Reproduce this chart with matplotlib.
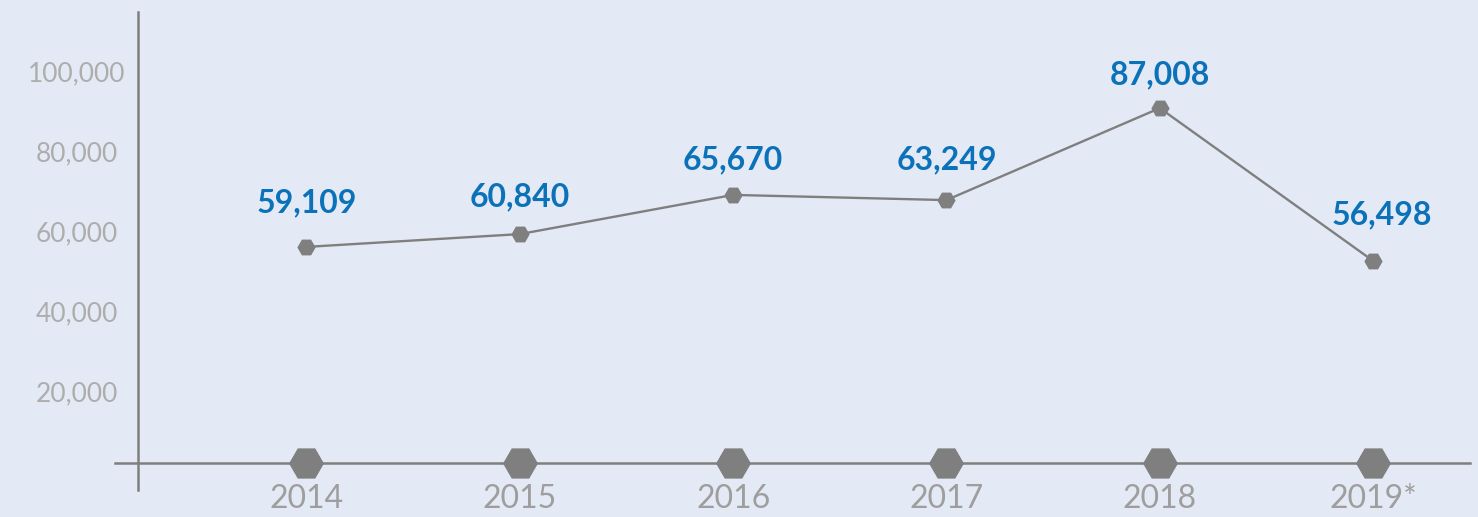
import matplotlib.pyplot as plt

# Data
years = ["2014", "2015", "2016", "2017", "2018", "2019*"]
plotted = [56200, 59400, 69200, 67900, 90900, 52700]
labels = ["59,109", "60,840", "65,670", "63,249", "87,008", "56,498"]
yticks = [20000, 40000, 60000, 80000, 100000]
ytick_labels = ["20,000", "40,000", "60,000", "80,000", "100,000"]

# Style
BG = "#E4EAF5"
GREY = "#7F7F7F"
BLUE = "#0B72BA"
W, H = 1478, 517
label_offsets = [(0, 32), (0, 27), (0, 25), (0, 29), (0, 24), (6, 33)]  # points

plt.rcParams["font.family"] = ["Lato", "DejaVu Sans"]

fig = plt.figure(figsize=(W / 100, H / 100), dpi=100, facecolor=BG)
ax = fig.add_axes([137.7 / W, (H - 490) / H, (1470 - 137.7) / W, (490 - 12) / H])
ax.set_facecolor(BG)

x = list(range(len(years)))
ax.plot(x, plotted, color=GREY, lw=1.7, marker="H", ms=12, zorder=3, clip_on=False)

for i, (v, t) in enumerate(zip(plotted, labels)):
    ax.annotate(t, (i, v), xytext=label_offsets[i], textcoords="offset points",
                ha="center", va="center", color=BLUE, fontsize=23, fontweight="bold")

# x baseline with big hexagons
base = 2250
ax.axhline(base, xmin=-0.017, xmax=1, color=GREY, lw=1.8, clip_on=False, zorder=2)
ax.plot(x, [base] * len(x), ls="none", marker="H", ms=24, color=GREY,
        zorder=4, clip_on=False)
for i, yr in enumerate(years):
    ax.text(i, -6700, yr, ha="center", va="center", fontsize=23,
            color="#9E9E9E", clip_on=False)

ax.set_xlim(-0.791, 5.454)
ax.set_ylim(-4575, 114925)
ax.set_xticks([])
ax.set_yticks(yticks)
ax.set_yticklabels(ytick_labels)
ax.tick_params(axis="y", length=0, pad=44, labelsize=19, labelcolor="#ADADAD")
for lab in ax.get_yticklabels():
    lab.set_ha("center")

for s in ["top", "right", "bottom"]:
    ax.spines[s].set_visible(False)
ax.spines["left"].set_color(GREY)
ax.spines["left"].set_linewidth(1.8)

fig.savefig("out.png", dpi=100, facecolor=BG)
